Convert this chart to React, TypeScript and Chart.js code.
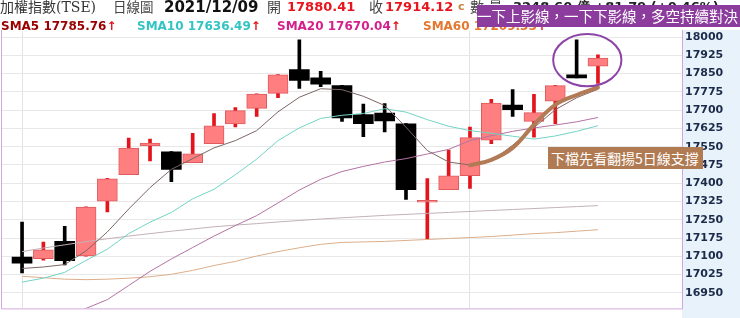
import React, { useEffect, useRef } from 'react';
import { Chart, registerables } from 'chart.js';

Chart.register(...registerables);

// ---- data ----
const dates = [
  '2021/11/02', '2021/11/03', '2021/11/04', '2021/11/05', '2021/11/08', '2021/11/09', '2021/11/10',
  '2021/11/11', '2021/11/12', '2021/11/15', '2021/11/16', '2021/11/17', '2021/11/18', '2021/11/19',
  '2021/11/22', '2021/11/23', '2021/11/24', '2021/11/25', '2021/11/26', '2021/11/29', '2021/11/30',
  '2021/12/01', '2021/12/02', '2021/12/03', '2021/12/06', '2021/12/07', '2021/12/08', '2021/12/09',
];
const opens = [17097, 17090, 17161, 17101, 17326, 17435, 17553, 17529, 17484, 17562, 17643, 17707, 17769, 17867,
  17833, 17801, 17682, 17688, 17644, 17322, 17374, 17431, 17577, 17721, 17654, 17737, 17845, 17880.41];
const highs = [17240, 17158, 17223, 17303, 17420, 17585, 17581, 17530, 17605, 17686, 17711, 17767, 17846, 17989,
  17859, 17802, 17725, 17727, 17645, 17419, 17536, 17630, 17744, 17784, 17765, 17802, 17989, 17927];
const lows = [17032, 17084, 17065, 17100, 17282, 17435, 17492, 17406, 17484, 17562, 17631, 17674, 17751, 17789,
  17796, 17654, 17591, 17611, 17333, 17170, 17374, 17379, 17562, 17674, 17589, 17644, 17832, 17810];
const closes = [17072, 17126, 17082, 17302, 17418, 17544, 17565, 17457, 17521, 17636, 17698, 17766, 17845, 17822,
  17807, 17668, 17644, 17656, 17373, 17330, 17430, 17587, 17729, 17702, 17690, 17801, 17832, 17914.12];

const sma5 = [17050, 17056, 17066, 17122, 17200, 17294, 17382, 17457, 17501, 17545, 17575, 17616, 17693, 17753,
  17788, 17784, 17757, 17719, 17630, 17534, 17487, 17475, 17490, 17556, 17628, 17702, 17751, 17786];
const sma10 = [16994, 17010, 17034, 17083, 17129, 17193, 17240, 17280, 17336, 17375, 17435, 17499, 17575, 17627,
  17666, 17679, 17686, 17706, 17692, 17661, 17634, 17616, 17605, 17593, 17581, 17594, 17613, 17636];
const sma20 = [16773, 16811, 16849, 16886, 16922, 16980, 17038, 17089, 17136, 17183, 17226, 17267, 17319, 17372,
  17416, 17448, 17469, 17487, 17501, 17520, 17539, 17575, 17595, 17613, 17627, 17639, 17652, 17670];
const sma60 = [17018, 17012, 17006, 17004, 17006, 17010, 17016, 17026, 17042, 17062, 17079, 17101, 17119, 17135,
  17149, 17157, 17159, 17161, 17165, 17169, 17173, 17177, 17181, 17187, 17193, 17197, 17203, 17209];
const smaLong = [17119, 17134, 17147, 17160, 17172, 17183, 17193, 17203, 17212, 17221, 17228, 17234, 17241, 17247,
  17253, 17258, 17263, 17268, 17272, 17276, 17280, 17284, 17288, 17292, 17296, 17300, 17304, 17308];

// hand-drawn highlight of the 5-day line
const highlightFrom = '2021/12/01';
const highlightValues = [17474, 17496, 17545, 17640, 17722, 17762, 17793];

const yTicks = [18000, 17925, 17850, 17775, 17700, 17625, 17550, 17475, 17400, 17325, 17250, 17175, 17100, 17025, 16950];
const yMin = 16886;
const yMax = 18025;
const xMin = -0.94;
const xMax = 30.94;
const dividerDates = ['2021/11/02', '2021/12/01'];

// ellipse annotation around the last two candles
const circleDates = ['2021/12/08', '2021/12/09'];
const circleTop = 18013;
const circleBottom = 17798;

const PINK = '#ff7f80';
const PINK_BORDER = '#e05a5c';
const RED = '#e3141c';
const BLACK = '#000000';

const isUp = (i: number) => closes[i] >= opens[i];

const framePlugin = {
  id: 'frame',
  beforeDraw(chart: any) {
    const { ctx, chartArea: a, width, height } = chart;
    ctx.save();
    ctx.fillStyle = '#e7f2fb';
    ctx.fillRect(a.right, a.top - 1, width - a.right, height - a.top + 1);
    ctx.restore();
  },
  afterDatasetsDraw(chart: any) {
    const { ctx, chartArea: a, scales } = chart;
    ctx.save();
    ctx.strokeStyle = '#cfa9dd';
    ctx.lineWidth = 1;
    ctx.beginPath();
    ctx.moveTo(a.left - 0.5, a.top - 1);
    ctx.lineTo(a.left - 0.5, a.bottom + 0.5);
    ctx.lineTo(a.right + 0.5, a.bottom + 0.5);
    ctx.lineTo(a.right + 0.5, a.top - 1);
    ctx.stroke();

    const i0 = dates.indexOf(circleDates[0]);
    const i1 = dates.indexOf(circleDates[1]);
    const x0 = scales.x.getPixelForValue(i0);
    const x1 = scales.x.getPixelForValue(i1);
    const cx = (x0 + x1) / 2;
    const rx = (x1 - x0) * 1.6;
    const yt = scales.y.getPixelForValue(circleTop);
    const yb = scales.y.getPixelForValue(circleBottom);
    ctx.strokeStyle = '#8c45a6';
    ctx.lineWidth = 2;
    ctx.beginPath();
    ctx.ellipse(cx, (yt + yb) / 2, rx, (yb - yt) / 2, 0, 0, Math.PI * 2);
    ctx.stroke();
    ctx.restore();
  },
};

const hdr: React.CSSProperties = { position: 'absolute', whiteSpace: 'nowrap', lineHeight: '14px' };
const grayCJK: React.CSSProperties = { ...hdr, top: 0, fontSize: 14, color: '#444', fontFamily: '"DejaVu Serif", "Noto Sans CJK TC", serif' };
const num: React.CSSProperties = { ...hdr, top: 0, fontFamily: '"DejaVu Sans", sans-serif', fontWeight: 'bold' };
const smaStyle: React.CSSProperties = { ...hdr, top: 19, fontSize: 12, fontFamily: '"DejaVu Sans", sans-serif', fontWeight: 'bold' };
const arrow: React.CSSProperties = { color: '#e3141c' };

export default function App() {
  const ref = useRef<HTMLCanvasElement>(null);

  useEffect(() => {
    document.body.style.margin = '0';
    const hiStart = dates.indexOf(highlightFrom);
    const chart = new Chart(ref.current as HTMLCanvasElement, {
      type: 'bar',
      data: {
        datasets: [
          {
            type: 'line',
            data: highlightValues.map((v, k) => ({ x: hiStart + k, y: v })),
            borderColor: '#b27a55',
            borderWidth: 4,
            pointRadius: 0,
            tension: 0.4,
            borderCapStyle: 'round',
            order: -1,
          } as any,
          { type: 'line', data: sma5.map((v, i) => ({ x: i, y: v })), borderColor: '#7d6565', borderWidth: 1, pointRadius: 0, order: 0 } as any,
          { type: 'line', data: sma10.map((v, i) => ({ x: i, y: v })), borderColor: '#72d3c4', borderWidth: 1, pointRadius: 0, order: 0 } as any,
          { type: 'line', data: sma20.map((v, i) => ({ x: i, y: v })), borderColor: '#b273a3', borderWidth: 1, pointRadius: 0, order: 0 } as any,
          { type: 'line', data: sma60.map((v, i) => ({ x: i, y: v })), borderColor: '#dcae8a', borderWidth: 1, pointRadius: 0, order: 0 } as any,
          { type: 'line', data: smaLong.map((v, i) => ({ x: i, y: v })), borderColor: '#c3b1b7', borderWidth: 1, pointRadius: 0, order: 0 } as any,
          {
            type: 'bar',
            data: dates.map((d, i) => ({ x: i, y: [opens[i], closes[i]] })),
            backgroundColor: dates.map((d, i) => (isUp(i) ? PINK : BLACK)),
            borderColor: dates.map((d, i) => (isUp(i) ? PINK_BORDER : BLACK)),
            borderWidth: dates.map((d, i) => (isUp(i) ? 1 : 0)),
            borderSkipped: false,
            barThickness: 20,
            grouped: false,
            order: 1,
          } as any,
          {
            type: 'bar',
            data: dates.map((d, i) => ({ x: i, y: [lows[i], highs[i]] })),
            backgroundColor: dates.map((d, i) => (isUp(i) ? RED : BLACK)),
            borderWidth: 0,
            barThickness: 3,
            grouped: false,
            order: 2,
          } as any,
        ],
      },
      options: {
        responsive: false,
        animation: false,
        events: [],
        layout: { padding: { top: 31, bottom: 1, left: 2, right: 0 } },
        plugins: { legend: { display: false }, tooltip: { enabled: false } },
        scales: {
          x: {
            type: 'linear',
            min: xMin,
            max: xMax,
            offset: false,
            ticks: { display: false },
            grid: { color: '#e3e3e3', drawTicks: false, tickLength: 0, offset: false },
            border: { display: false },
            afterBuildTicks: (s: any) => {
              s.ticks = dividerDates.map((d) => ({ value: dates.indexOf(d) }));
            },
            afterFit: (s: any) => {
              s.height = 0;
            },
          },
          y: {
            position: 'right',
            min: yMin,
            max: yMax,
            ticks: {
              autoSkip: false,
              padding: 3,
              color: '#1b2a48',
              font: { family: 'DejaVu Sans', size: 11, weight: 'bold' },
              callback: (v: any) => String(v),
            },
            grid: { color: '#e8e8e8', drawTicks: false, tickLength: 0 },
            border: { display: false },
            afterBuildTicks: (s: any) => {
              s.ticks = yTicks.map((v) => ({ value: v }));
            },
            afterFit: (s: any) => {
              s.width = 58;
            },
          },
        },
      } as any,
      plugins: [framePlugin],
    });
    return () => chart.destroy();
  }, []);

  return (
    <div style={{ position: 'relative', width: 740, height: 318, overflow: 'hidden', background: '#fff' }}>
      <canvas ref={ref} width={740} height={318} style={{ position: 'absolute', left: 0, top: 0 }} />
      <span style={{ ...grayCJK, left: 0, color: '#333' }}>加權指數(TSE)</span>
      <span style={{ ...grayCJK, left: 113, fontSize: 13.5 }}>日線圖</span>
      <span style={{ ...num, left: 164, fontSize: 15, color: '#111' }}>2021/12/09</span>
      <span style={{ ...grayCJK, left: 267 }}>開</span>
      <span style={{ ...num, left: 287, fontSize: 13, color: '#e8141e' }}>17880.41</span>
      <span style={{ ...grayCJK, left: 369 }}>收</span>
      <span style={{ ...num, left: 385, fontSize: 13, color: '#e8141e' }}>17914.12</span>
      <span style={{ ...num, left: 458, fontSize: 11, color: '#c8823c' }}>c</span>
      <span style={{ ...grayCJK, left: 470 }}>數 量</span>
      <span style={{ ...num, left: 513, fontSize: 13, color: '#222' }}>3248.60 億 +81.79 (+0.46%)</span>

      <span style={{ ...smaStyle, left: 1, color: '#990000' }}>SMA5 17785.76<span style={arrow}>↑</span></span>
      <span style={{ ...smaStyle, left: 137, color: '#33c3c3' }}>SMA10 17636.49<span style={arrow}>↑</span></span>
      <span style={{ ...smaStyle, left: 277, color: '#d4208c' }}>SMA20 17670.04<span style={arrow}>↑</span></span>
      <span style={{ ...smaStyle, left: 423, color: '#e3782e' }}>SMA60 17209.35<span style={arrow}>↑</span></span>

      <div
        style={{
          position: 'absolute', left: 477, top: 5, width: 263, height: 22, background: '#8b3c9c', color: '#fff',
          fontFamily: '"Noto Sans CJK TC", sans-serif', fontSize: 14.5, lineHeight: '22px', whiteSpace: 'nowrap',
          overflow: 'hidden', paddingLeft: 0, letterSpacing: 0, boxSizing: 'border-box',
        }}
      >
        一下上影線，一下下影線，多空持續對決
      </div>
      <div
        style={{
          position: 'absolute', left: 548, top: 147, width: 155, height: 22, background: '#b07a52', color: '#fff',
          fontFamily: '"Noto Sans CJK TC", sans-serif', fontSize: 14, lineHeight: '22px', whiteSpace: 'nowrap',
          overflow: 'hidden', paddingLeft: 3, letterSpacing: 0, boxSizing: 'border-box',
        }}
      >
        下檔先看翻揚5日線支撐
      </div>
    </div>
  );
}
